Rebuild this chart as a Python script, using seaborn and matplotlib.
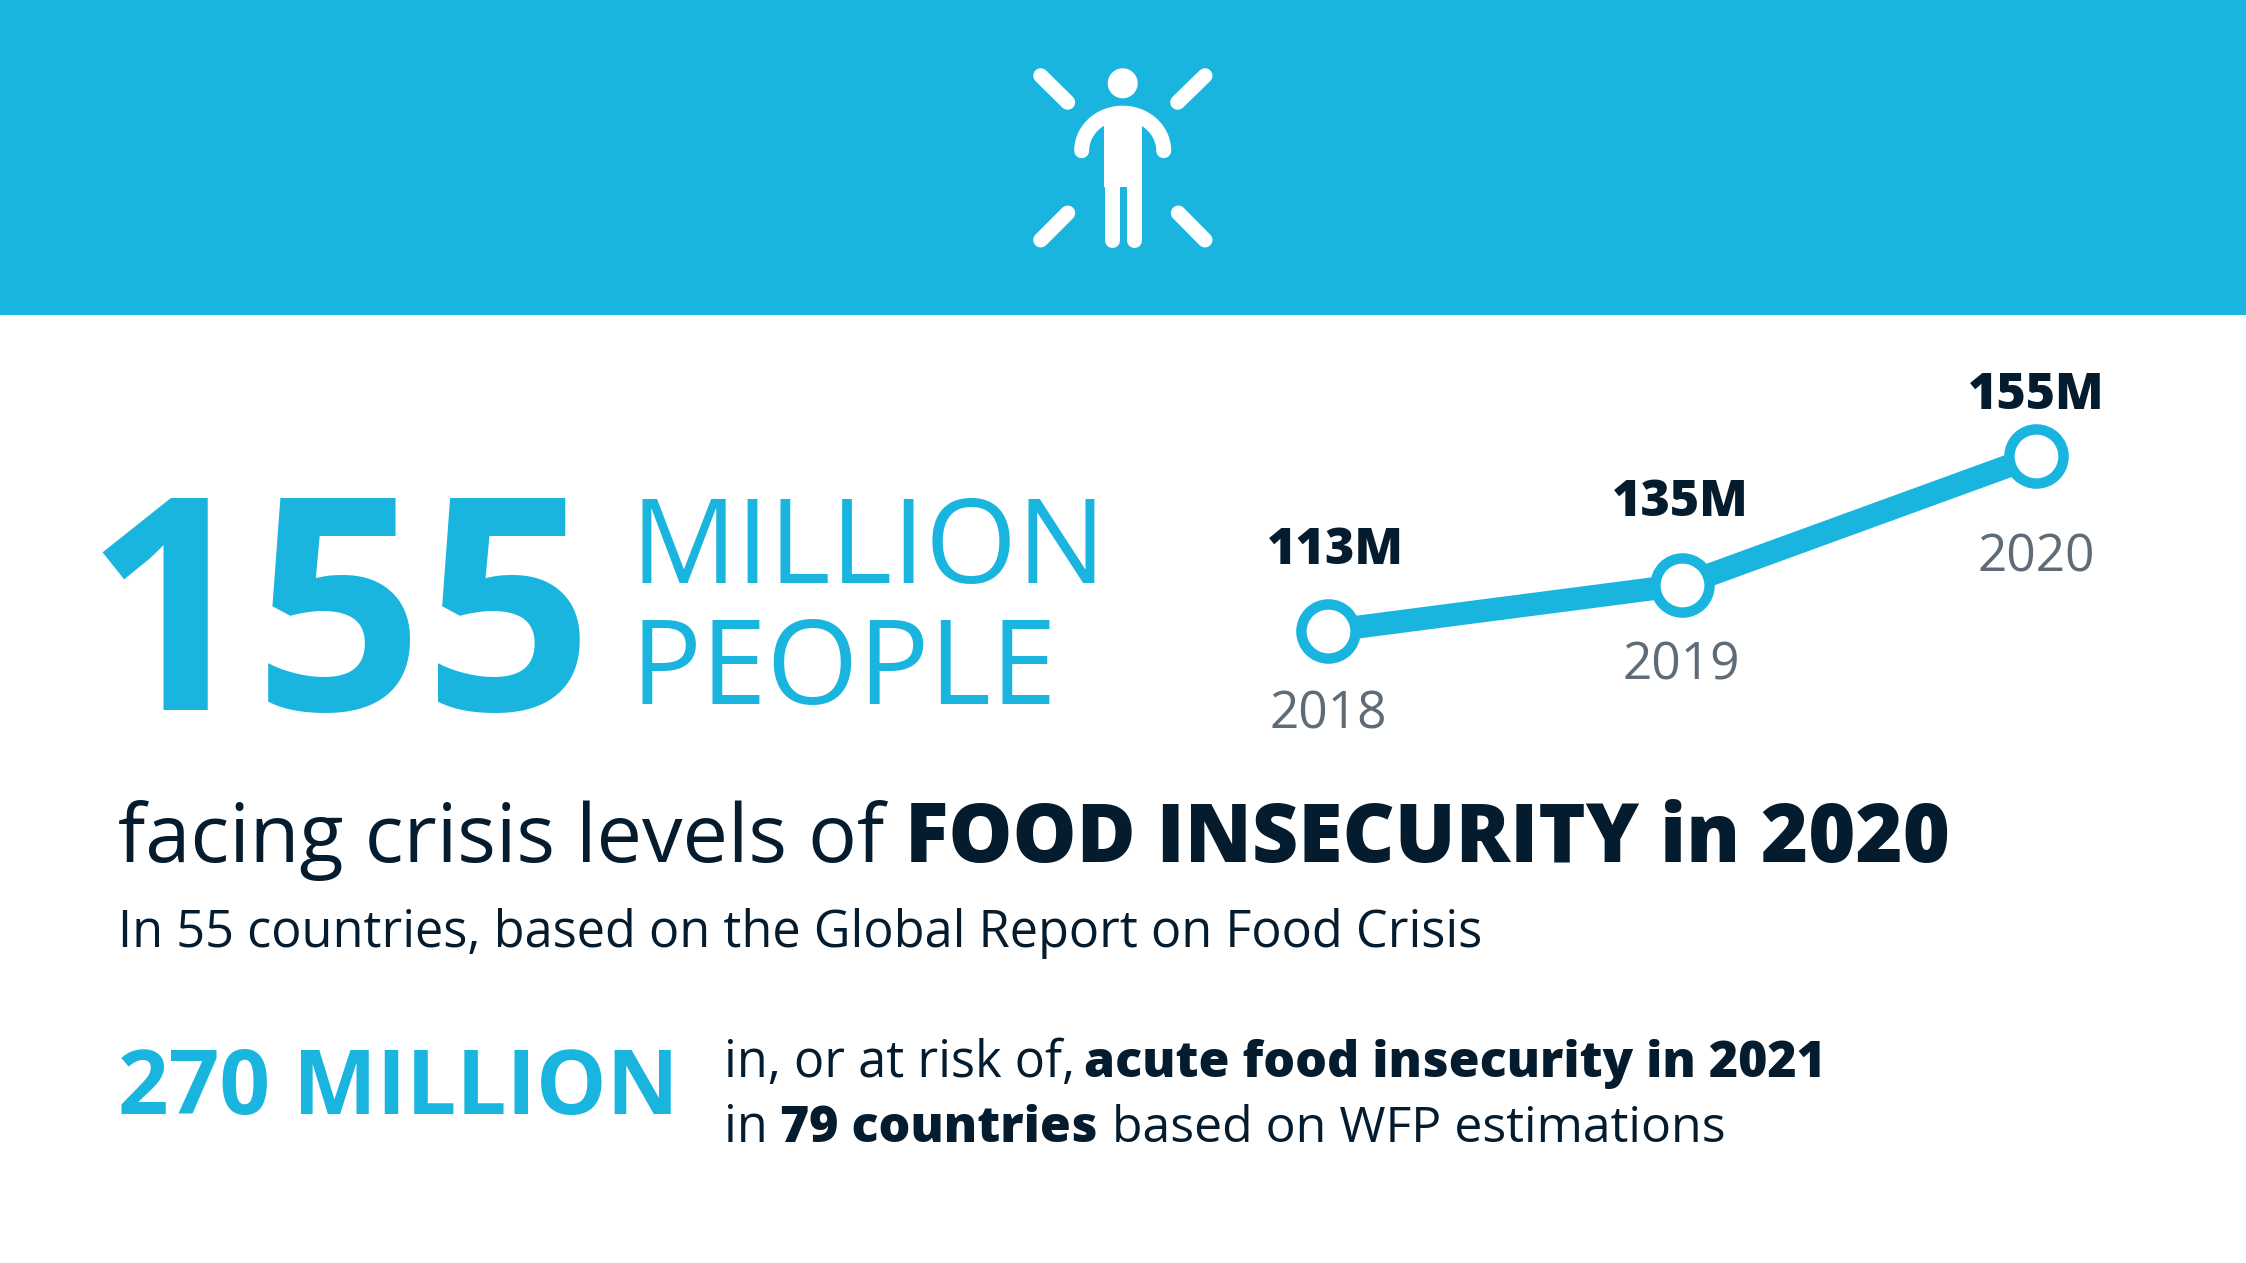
import matplotlib
matplotlib.use('Agg')
import matplotlib.pyplot as plt
import seaborn as sns
import numpy as np
import pandas as pd
from matplotlib.patches import Rectangle, Circle

years = ['2018', '2019', '2020']
values = [113, 135, 155]
value_labels = ['113M', '135M', '155M']

BLUE = '#1AB5DE'
NAVY = '#051C2F'
GREY = '#5F6B76'

sns.set_theme(style='white')
plt.rcParams['font.family'] = ['Open Sans', 'DejaVu Sans']

W, H = 2246, 1263
fig = plt.figure(figsize=(W / 100, H / 100), dpi=100, facecolor='white')

# page layer in pixel coords
bg = fig.add_axes([0, 0, 1, 1])
bg.set_xlim(0, W)
bg.set_ylim(H, 0)
bg.axis('off')
bg.add_patch(Rectangle((0, 0), W, 315, color=BLUE, lw=0))

# person icon
ICON_LW = 10.8
bg.add_patch(Circle((1122.7, 83.3), 15, color='white', lw=0))
t = np.linspace(np.pi, 0, 60)
bg.plot(1122.7 + 41 * np.cos(t), 150.7 - 37.5 * np.sin(t), color='white', lw=ICON_LW, solid_capstyle='round')
bg.add_patch(Rectangle((1104, 115), 37.7, 72, color='white', lw=0))
for leg_x in [1111.5, 1134.2]:
    bg.plot([leg_x, leg_x], [184, 239.8], color='white', lw=ICON_LW, solid_capstyle='round')
for x0, y0, x1, y1 in [(1040.7, 75.7, 1067.7, 102.3), (1205, 75.7, 1177.7, 102.3),
                       (1067.7, 213, 1040.7, 240), (1178.3, 213, 1205, 240)]:
    bg.plot([x0, x1], [y0, y1], color='white', lw=ICON_LW, solid_capstyle='round')


def label(x, y, s, size, color=NAVY, weight='normal', ha='left'):
    return bg.text(x, y, s, fontsize=size, color=color, fontweight=weight, ha=ha, va='baseline')


label(84, 710, '155', 214, BLUE, 'bold')
label(630, 583, 'MILLION', 85, BLUE)
label(630, 704, 'PEOPLE', 85, BLUE)

label(118, 862, 'facing crisis levels of', 58.4)
label(905, 862, 'FOOD INSECURITY in 2020', 58, weight=800)
label(118, 947, 'In 55 countries, based on the Global Report on Food Crisis', 36.4)

label(118, 1114, '270 MILLION', 63.9, BLUE, 'bold')
label(724, 1077, 'in, or at risk of,', 36.4)
label(1084, 1077, 'acute food insecurity in 2021', 36, weight=800)
label(724, 1142, 'in', 36.4)
label(780, 1142, '79 countries', 36, weight=800)
label(1112, 1142, 'based on WFP estimations', 36)

# small trend chart, the original spacing is not proportional so use a stretched y scale
ax = fig.add_axes([1327.5 / W, 1 - 631 / H, (2036 - 1327.5) / W, (631 - 456) / H])
ax.patch.set_alpha(0)
df = pd.DataFrame({'year': years, 'value': values})
sns.lineplot(data=df, x='year', y='value', ax=ax, color=BLUE, lw=16.5, marker='o', markersize=39,
             markerfacecolor='white', markeredgecolor=BLUE, markeredgewidth=7.5, sort=False, clip_on=False)
knots = [0, 46, 175]
ax.set_yscale('function', functions=(lambda v: np.interp(v, values, knots),
                                     lambda p: np.interp(p, knots, values)))
ax.set_xlim(0, 2)
ax.set_ylim(113, 155)
ax.axis('off')
value_off = [(5.5, 48), (-1, 50), (0, 34)]
year_off = [(0.5, -70), (0, -68), (0, -83)]
for i in range(3):
    ax.annotate(value_labels[i], (i, values[i]), xytext=value_off[i], textcoords='offset points', ha='center',
                va='baseline', fontsize=36.2, fontweight=800, color=NAVY, annotation_clip=False)
    ax.annotate(years[i], (i, values[i]), xytext=year_off[i], textcoords='offset points', ha='center',
                va='baseline', fontsize=37, color=GREY, annotation_clip=False)

fig.savefig('out.png', dpi=100)
